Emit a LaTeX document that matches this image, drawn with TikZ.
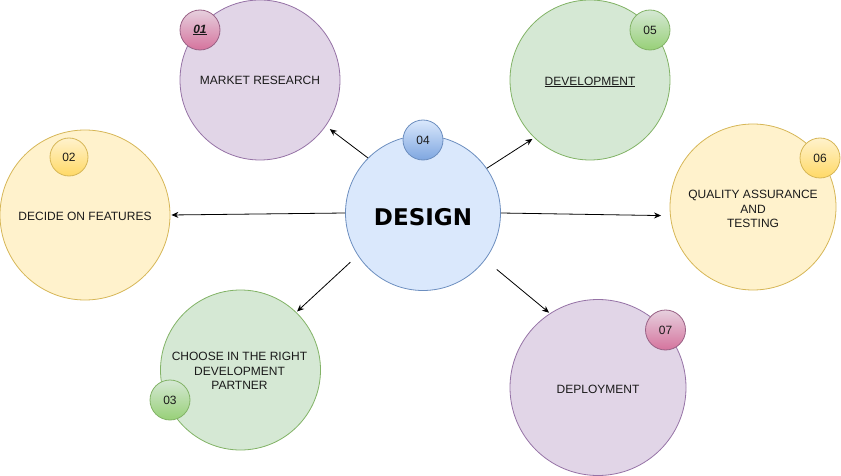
\documentclass[tikz,border=0pt]{standalone}
\usepackage{fontspec}
\setmainfont{Liberation Sans}
\newfontfamily\designfont{DejaVu Sans}
\usetikzlibrary{arrows.meta}
\definecolor{purF}{HTML}{E1D5E7}\definecolor{purD}{HTML}{9673A6}
\definecolor{grnF}{HTML}{D5E8D4}\definecolor{grnD}{HTML}{82B366}
\definecolor{yelF}{HTML}{FFF2CC}\definecolor{yelD}{HTML}{D6B656}
\definecolor{bluF}{HTML}{DAE8FC}\definecolor{bluD}{HTML}{6C8EBF}
\definecolor{pnkT}{HTML}{E6D0DE}\definecolor{pnkB}{HTML}{D5739D}\definecolor{pnkD}{HTML}{996185}
\definecolor{grnB}{HTML}{97D077}
\definecolor{yelB}{HTML}{FFD966}
\definecolor{bluB}{HTML}{7EA6E0}
\definecolor{txt}{HTML}{1A1A1A}
\begin{document}
\begin{tikzpicture}[x=1pt,y=-1pt,
  bigcirc/.style={circle,draw,line width=0.8pt,inner sep=0pt},
  lbl/.style={inner sep=0pt,text=txt,align=center,font=\fontsize{12}{14.5}\selectfont},
  badge/.style={circle,draw,line width=0.8pt,inner sep=0pt,minimum size=40pt,text=txt,
    font=\fontsize{12}{14}\selectfont},
  conn/.style={line width=0.8pt,-{Stealth[length=7pt,width=6pt]}},
]
\useasboundingbox (0,0) rectangle (841,476);
% main circles
\node[bigcirc,fill=purF,draw=purD,minimum size=160pt] (mr) at (260,80) {};
\node[bigcirc,fill=grnF,draw=grnD,minimum size=160pt] (dev) at (590,80) {};
\node[bigcirc,fill=yelF,draw=yelD,minimum size=170pt] (dec) at (85,215) {};
\node[bigcirc,fill=yelF,draw=yelD,minimum size=166pt] (qa) at (753,207) {};
\node[bigcirc,fill=grnF,draw=grnD,minimum size=160pt] (ch) at (240.5,370) {};
\node[bigcirc,fill=purF,draw=purD,minimum size=176pt] (dep) at (598,387.5) {};
\node[bigcirc,fill=bluF,draw=bluD,minimum size=155pt] (design) at (423,213) {};
% texts
\node[lbl] (t-mr) at (260,80) {MARKET RESEARCH};
\node[lbl] (t-dev) at (590,82) {\underline{DEVELOPMENT}};
\node[lbl] (t-dec) at (85,216) {DECIDE ON FEATURES};
\node[lbl] (t-qa) at (753,209) {QUALITY ASSURANCE\\AND\\TESTING};
\node[lbl] (t-ch) at (239.5,371) {CHOOSE IN THE RIGHT\\DEVELOPMENT\\PARTNER};
\node[lbl] (t-dep) at (598,389) {DEPLOYMENT};
\node[lbl,font=\designfont\bfseries\fontsize{23}{26}\selectfont,text=black] (t-design) at (423,217) {DESIGN};
% badges
\node[badge,top color=pnkT,bottom color=pnkB,draw=pnkD] (b1) at (200,30) {\textbf{\textit{\underline{01}}}};
\node[badge,top color=yelF,bottom color=yelB,draw=yelD,minimum size=38pt] (b2) at (69,157) {02};
\node[badge,top color=grnF,bottom color=grnB,draw=grnD] (b3) at (170,400) {03};
\node[badge,top color=bluF,bottom color=bluB,draw=bluD] (b4) at (423,140) {04};
\node[badge,top color=grnF,bottom color=grnB,draw=grnD] (b5) at (650,30) {05};
\node[badge,top color=yelF,bottom color=yelB,draw=yelD] (b6) at (820,158) {06};
\node[badge,top color=pnkT,bottom color=pnkB,draw=pnkD] (b7) at (665.5,330) {07};
% connectors
\draw[conn,shorten >=5pt] (design.135) -- (mr.-35);
\draw[conn,shorten >=2pt] (design.35) -- (dev.226);
\draw[conn,shorten >=1pt] (design.west) -- (dec.east);
\draw[conn,shorten >=9pt] (design.east) -- (qa.186);
\draw[conn,shorten <=10pt,shorten >=1pt] (design.-147) -- (ch.46);
\draw[conn,shorten <=15pt,shorten >=1pt] (design.-37) -- (dep.123);
\end{tikzpicture}
\end{document}
